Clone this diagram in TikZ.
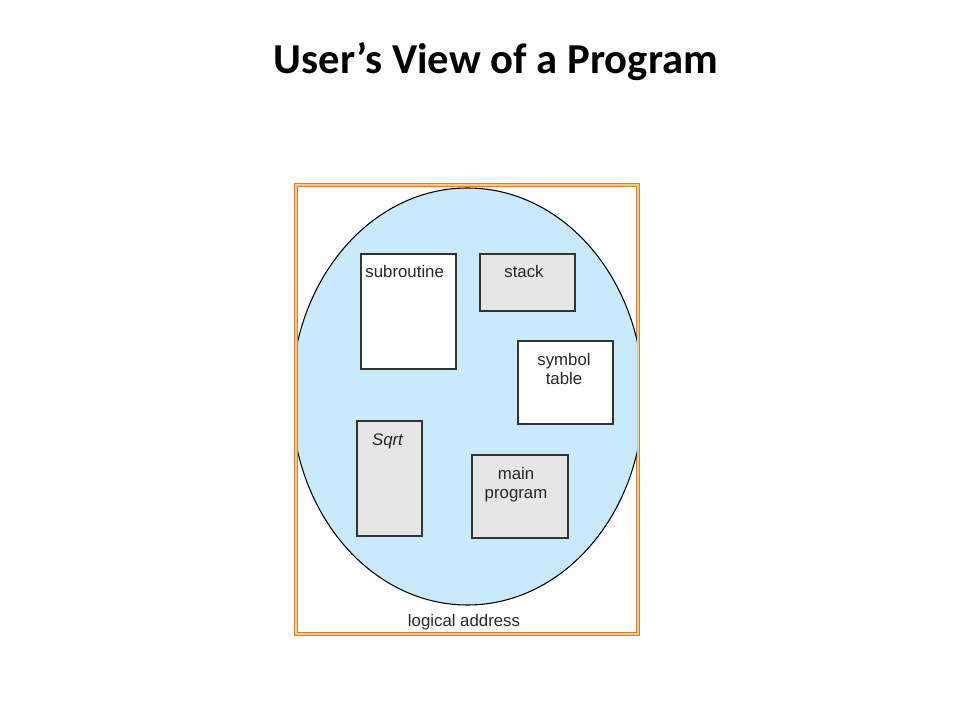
\documentclass[tikz,border=0pt]{standalone}
\usepackage{fontspec}
\setmainfont{Liberation Sans}
\newfontfamily\titlefont{Carlito}
\definecolor{ellfill}{RGB}{200,234,250}
\definecolor{boxgrey}{RGB}{230,230,230}
\definecolor{boxline}{RGB}{51,51,51}
\definecolor{dorange}{RGB}{218,128,40}
\definecolor{lorange}{RGB}{250,200,140}
\tikzset{
  box/.style={draw=boxline, line width=0.95pt, inner sep=0pt},
  lbl/.style={anchor=base, inner sep=0pt, font=\fontsize{12.6}{15}\selectfont, text=black!85},
}
\begin{document}
\begin{tikzpicture}[x=0.75pt,y=-0.75pt]
\useasboundingbox[fill=white] (0,0) rectangle (960,720);
\node[anchor=base, inner sep=0pt, font=\titlefont\bfseries\fontsize{32}{38}\selectfont] (title) at (496,73.5) {User’s View of a Program};
% frame
\draw[draw=dorange, double=lorange, double distance=1.2pt, line width=1pt] (295.8,184.8) rectangle (638.2,634.2);
\coordinate (frameNW) at (295.8,184.8);
% ellipse clipped by the frame
\begin{scope}
\clip (298.2,0) rectangle (636.8,720);
\draw[fill=ellfill, draw=black, line width=0.8pt] (467.5,396.5) ellipse [x radius=176, y radius=208.5];
\end{scope}
% boxes
\draw[box, fill=white] (361,254) rectangle (456,369) coordinate (subBR);
\node[lbl] (subroutine) at (404.7,278) {subroutine};
\draw[box, fill=boxgrey] (480,254) rectangle (575,311) coordinate (stackBR);
\node[lbl] (stack) at (524,278) {stack};
\draw[box, fill=white] (518,341) rectangle (613,424) coordinate (symBR);
\node[lbl] (symbol) at (564,365) {symbol};
\node[lbl] (table) at (564,384) {table};
\draw[box, fill=boxgrey] (357,421) rectangle (422,536) coordinate (sqrtBR);
\node[lbl, font=\itshape\fontsize{12.6}{15}\selectfont] (sqrt) at (387.5,445) {Sqrt};
\draw[box, fill=boxgrey] (472,455) rectangle (568,538) coordinate (mainBR);
\node[lbl] (main) at (516,479) {main};
\node[lbl] (program) at (516,498) {program};
\node[lbl] (logical) at (464,626.5) {logical address};
\end{tikzpicture}
\end{document}
